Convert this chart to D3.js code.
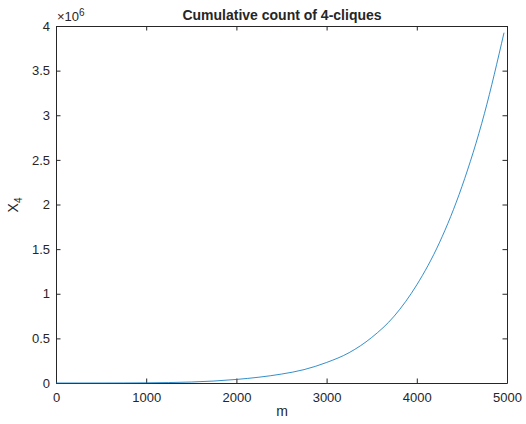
<!DOCTYPE html>
<html><head><meta charset="utf-8">
<script src="https://cdn.jsdelivr.net/npm/d3@7"></script>
<style>body{margin:0;background:#fff}svg{display:block}text{font-family:"Liberation Sans",Arial,sans-serif;fill:#262626}</style>
</head><body><svg id="c" width="526" height="424"></svg>
<script>
const mValues = [0, 250, 500, 750, 1000, 1250, 1500, 1750, 2000, 2250, 2500, 2750, 3000, 3250, 3500, 3750, 4000, 4250, 4500, 4750, 4967];
const x4Values = [0, 0, 100, 600, 2000, 5000, 11000, 22000, 40000, 65000, 100000, 150000, 230000, 340000, 510000, 750000, 1100000, 1570000, 2200000, 3020000, 3925000];
const xTicks = [0, 1000, 2000, 3000, 4000, 5000];
const yTicks = [0, 0.5, 1, 1.5, 2, 2.5, 3, 3.5, 4];
const titleText = "Cumulative count of 4-cliques";

const svg = d3.select("#c");
const L = 56, R = 507, T = 26, B = 383;
const x = d3.scaleLinear().domain([0, 5000]).range([L, R]);
const y = d3.scaleLinear().domain([0, 4]).range([B, T]);
const axisColor = "#262626";

const gx = svg.append("g").attr("transform", `translate(0,${B})`)
  .call(d3.axisBottom(x).tickValues(xTicks).tickSizeInner(-4.5).tickSizeOuter(0).tickPadding(10).tickFormat(d3.format("d")));
const gxt = svg.append("g").attr("transform", `translate(0,${T})`)
  .call(d3.axisTop(x).tickValues(xTicks).tickSizeInner(-4.5).tickSizeOuter(0).tickFormat(""));
const gy = svg.append("g").attr("transform", `translate(${L},0)`)
  .call(d3.axisLeft(y).tickValues(yTicks).tickSizeInner(-4.5).tickSizeOuter(0).tickPadding(6).tickFormat(d => String(d)));
const gyr = svg.append("g").attr("transform", `translate(${R},0)`)
  .call(d3.axisRight(y).tickValues(yTicks).tickSizeInner(-4.5).tickSizeOuter(0).tickFormat(""));
[gx, gxt, gy, gyr].forEach(g => {
  g.select(".domain").attr("stroke", axisColor).attr("stroke-width", 1);
  g.selectAll(".tick line").attr("stroke", axisColor);
  g.selectAll(".tick text").attr("font-size", 13).attr("fill", axisColor).attr("font-family", "Liberation Sans, Arial, sans-serif");
});
gx.selectAll(".tick text").attr("dy", "0.71em");

const line = d3.line().x((d, i) => x(mValues[i])).y((d) => y(d / 1e6)).curve(d3.curveMonotoneX);
svg.append("path").datum(x4Values).attr("d", line)
  .attr("fill", "none").attr("stroke", "#0072BD").attr("stroke-width", 0.8);

svg.append("text").attr("x", 282).attr("y", 20).attr("text-anchor", "middle")
  .attr("font-size", 14).attr("font-weight", "bold").text(titleText);

const ex = svg.append("text").attr("x", 57).attr("y", 21).attr("font-size", 13);
ex.append("tspan").text("\u00d710");
ex.append("tspan").attr("dy", -5).attr("font-size", 10).text("6");

svg.append("text").attr("x", 282).attr("y", 416).attr("text-anchor", "middle").attr("font-size", 14).text("m");

const yl = svg.append("text").attr("transform", "translate(18,205) rotate(-90)").attr("text-anchor", "middle").attr("font-size", 14);
yl.append("tspan").text("X");
yl.append("tspan").attr("dy", 4).attr("font-size", 10).text("4");
</script></body></html>
